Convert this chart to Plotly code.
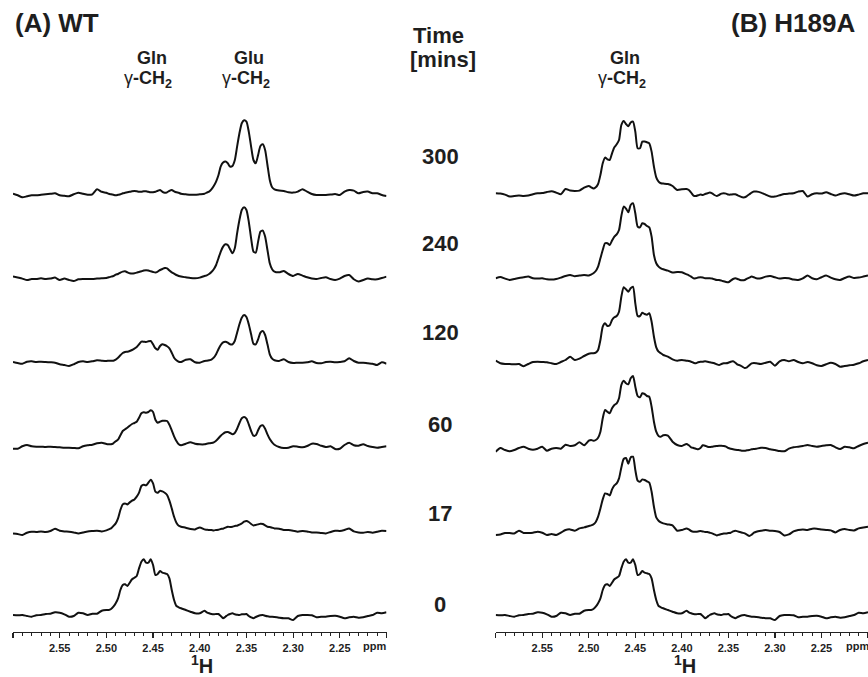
import numpy as np
import plotly.graph_objects as go

# ---------------- sampling positions (ppm) ----------------
PPM = np.round(np.concatenate([
    np.arange(2.600, 2.5049, -0.005),
    np.arange(2.500, 2.4224, -0.0025),
    np.arange(2.420, 2.3949, -0.005),
    np.arange(2.3925, 2.3224, -0.0025),
    np.arange(2.320, 2.1999, -0.005),
]), 4)

TIMES = ["300", "240", "120", "60", "17", "0"]
TICK_VALS = [2.60, 2.55, 2.50, 2.45, 2.40, 2.35, 2.30, 2.25, 2.20]
TICK_TEXT = ["", "2.55", "2.50", "2.45", "2.40", "2.35", "2.30", "2.25", ""]

# ---------------- intensities (arbitrary units) ----------------
WT_300 = [-0.5, -2, -4, -3, -2, -2, -1.5, -1, -0.5, 0, -2, -2.5, -3, -1, 0.5, -0.5, -1.5, -1, 4, 1.5,
          0.5, -0.5, -1, -1.5, -2, -1.5, -1, 0, 0.5, 1, 1.5, 2, 2.3, 2, 1.5, 1.5, 2, 2, 1.5, 1, 1, 1.5, 2.5, 3.3, 1.5, 0.5, 1, 2.5, 3.3, 2, 1, 0.5,
          -0.5, -1, -1.5, -1.5, -1, -0.5,
          0.7, 1.7, 4, 7.3, 11.7, 18, 27, 30.7, 31.7, 30, 26.7, 27.3, 33, 46.7, 60, 70, 73, 71.7, 61.7, 46.7, 33.3, 30, 38.3, 47.3, 49, 43.3, 28.3, 13.3, 6,
          4, 2.7, 2.3, 1, 0.7, 1.7, 4, 1.7, -0.7, -1.7, -1.7, -1.7, -1.3, -0.7, -1.7, 1.7, 3.3, 2.7, 0, 1.3, 1.7, 0, 0, -1.7, -2.7]
WT_240 = [1.7, 0.7, -0.3, -1.7, -0.7, -0.7, 0, -0.7, -0.3, 0.7, -1.7, -0.3, -1.7, -2.7, -1, -0.7, -0.7, -0.7, -0.3, 0,
          0.3, 1, 1.7, 2.3, 3.7, 4.3, 5.7, 6.7, 7, 6, 5, 4.7, 5, 5.7, 6.3, 7, 7.7, 8, 7.7, 7, 6.3, 5.7, 6.7, 8.3, 9.3, 10.3, 10, 7.7, 6, 4.7, 3.3, 2.3,
          1.7, 1, 0.3, 0, 0.7, 2.3,
          3, 4.3, 6.3, 9, 13.3, 20, 26.7, 31.7, 34, 33.3, 29, 25, 30, 45, 58.3, 68.3, 71, 68.3, 56.7, 40, 26.7, 25.7, 36.7, 46.7, 47.7, 41.7, 28.3, 15, 9,
          6.7, 6, 7.3, 4.3, 2.3, 4.3, 2.7, 1, -0.3, -0.7, 0.3, 1, -0.7, -1.7, -0.3, 2.3, 3.3, -1, -3.3, -1.7, -0.3, -1, -1, 0.3, 1.7]
WT_120 = [0, -1, -1.7, 0.3, 0.7, 0, 0.3, 0, -0.3, -0.7, -2.3, -3, -4, -2.3, 0, 0.7, 0, 0.7, 1.7, 1.3,
          1, 1.3, 1.3, 1.3, 2.3, 4.3, 6.7, 9, 10, 10.3, 11, 12, 13.3, 15, 17.7, 20.3, 20.3, 20, 20.7, 21, 17.7, 13.7, 12.3, 16, 17.7, 17, 15.7, 13.7, 9.3, 4.3, 1.7, 0.3,
          0, 2.3, 2.7, -0.3, -0.7, 1,
          1.3, 1.7, 2.3, 4.3, 7.7, 12.7, 17, 19.7, 20.3, 19.3, 17.7, 17.7, 21, 29.3, 37.7, 44.3, 47, 45, 37.7, 27.7, 18.3, 17.7, 22.7, 29.3, 31, 27, 17.7, 7.7, 3.3,
          1.7, 1, 2.7, 0, -1, -0.7, -0.7, -0.3, 0.7, -1, -1.3, 0, 0.3, -0.3, 0, 0.7, 3.7, 1, -0.7, -0.7, -1.3, -1.7, -3, -0.3, -1.7]
WT_60 = [-1.7, -1.7, 0.7, 2, 0.7, 0.3, 0.3, 0, 0.3, 0, -0.3, -0.7, -0.7, -1, -1.3, 0.7, 1.7, 2.3, 3.7, 4.3,
         3, 2.7, 2.7, 3.7, 5.7, 7.3, 11.7, 16, 17.7, 19.3, 21.3, 23, 24, 25.3, 29.3, 33.7, 34.7, 34.3, 35, 36.7, 35, 27.3, 24.3, 25.3, 26.3, 26.3, 26, 22.3, 16.7, 10.7, 6, 2.7,
         1.7, 3.3, 4.7, 3.3, 2.7, 2.7,
         3.3, 3.7, 4, 4.7, 6.3, 8.7, 11.3, 13.3, 14.7, 15, 14, 12.7, 14, 18.3, 24, 28.7, 30, 28.3, 22.7, 16, 11.3, 11.7, 16.7, 21, 21.7, 18.3, 12.7, 8, 4.7,
         2.3, 0, -1, -0.7, 0.7, 0.3, -0.3, 1, 3.3, 3, 1.3, 0, 0.7, -2, -1.7, 2, 4.3, 1.7, 1.3, 2.7, 1, 0, -0.7, 0, 0.7]
WT_17 = [-0.7, -1.3, -2.3, 0, 1, 0.7, 1.3, 0.7, 1.7, 4, 2, 1.3, 1, 0.3, -0.7, 0.3, 1.3, 1.7, 2, 1.3,
         2.3, 3.3, 4.3, 6.7, 9.3, 14.3, 22.7, 28.3, 29.3, 28.3, 30.3, 32, 33.3, 36, 40, 46.7, 48, 47.3, 50, 53, 49.3, 41, 40, 42, 41.3, 40, 37.7, 32, 24.3, 16, 10, 7,
         6, 5, 3.7, 3.3, 5.3, 3.3,
         3, 2.7, 2.7, 2.3, 2.7, 3, 3.7, 4, 5, 6, 5.7, 6, 6.7, 7, 8, 9.3, 11, 11.7, 10.7, 8.7, 7.3, 7.7, 8.3, 9, 8.7, 7.3, 6, 5.7, 5,
         4.3, 4, 2.7, 2.7, 2, 1, 1.7, 1.3, 0.3, 0.3, -0.3, -0.7, 0.7, 2, 1.7, 2.7, 4.3, 1.3, 0.3, 0, 0.7, 0, 1, 2, 1.7]
WT_0 = [0, -0.3, 0, -1, -1.7, -0.3, 0, 1, 1.3, 2.7, 2.3, 0.7, -1.7, -1, 2.3, 1.7, 0, 1.3, 1.3, 4.3,
        5, 5, 6, 8.3, 11.7, 16.7, 25, 30, 30.7, 29, 32.3, 35.7, 37.3, 39, 46.7, 53.3, 55.7, 52.3, 52.3, 55.7, 50, 40, 41, 44, 42.3, 41.7, 41, 36.7, 25, 15, 9, 7.7,
        6.7, 5, 3.3, 1.7, 1.7, 4.3,
        2.7, 1.7, 1, 0.7, 1, 1, -1, -3.3, -1.7, 0, 1, 1.7, 0.7, 0.3, 0, 0.7, 0.7, 1, -1, -2.3, -3.3, -2, -1, -0.3, 0, -0.7, -1.3, -1.7, -1.7,
        -2, -2.7, -3.3, -3.3, -5, -1, 0, 0, -0.3, -2.3, -1.7, -1.7, -1, -0.7, -1.7, -3.3, -2.3, -1.7, -2.7, -2.3, -1, 0, 2.3, 1.7, 2.7]

H189A_300 = [0, -0.3, -1.3, -3.3, -2.7, -2.3, -2.7, -2.3, -1, 0, 0.3, 1.3, 2, 0.7, -1, 4.3, 2.7, 2.3, 2.7, 5.7,
             7.3, 6, 4.7, 6, 9.3, 18.3, 30, 35.7, 34, 33.3, 40, 46, 49, 53.3, 68.3, 72.3, 69.3, 67, 70.7, 71.7, 61.7, 45, 45, 51.7, 51.7, 51, 50, 41.7, 26.7, 16, 11.7, 10,
             9.7, 9.3, 7.3, 3.3, 4, 4.3,
             3.3, 0.7, -2.3, -2.7, -2, -1.3, -1.7, -0.7, 0, 0.7, 0, -1.7, -2.7, -1.7, -0.3, 0, -0.3, -1.3, -1.3, -1, -1, -2, -3, -4, -4, -2.7, -1, 0.7, 1.7,
             1.7, 0.7, -1.3, -3.3, -3.3, -2, -0.7, -0.3, 0, 1.7, 2.3, -3.3, -1, 0, -0.3, 1, -0.7, -2.3, -0.7, 0, -1, -2.3, -1.3, 0, 0]
H189A_240 = [0, 1.3, -0.3, -1.7, -0.7, 0.3, 1, 1.7, 0, -0.3, 0, -1, -1.3, -0.7, 0.7, 2.3, 3.3, 2, 2.7, 3.3,
             2.7, 3.7, 5, 7.3, 11.7, 20, 28.3, 35, 35, 33.3, 37.7, 41.7, 44, 48.3, 62.3, 71.7, 69.7, 66, 73.3, 75, 65, 51.7, 51, 55, 54.3, 52.3, 51, 41.7, 23.3, 15, 11.7, 10,
             9, 7.7, 5.7, 6.3, 6, 4,
             3, 1.7, 0, 0, 0.7, 1, 0.7, 0, 0, 0, -0.3, -1, -1.7, -1.7, -2.3, -3, -3.7, -4, -2.3, -0.7, 0, -0.7, -1.7, -2, -1.7, -0.3, 0.7, 1.7, 1,
             0, 0, 1.7, 2.3, 1, -0.3, 0.3, 0, -1.3, -1.7, 0, 2.7, 0, -1, 1, 2.7, 0.7, -1, -1.7, 0.3, 1.7, 0.3, 0.7, 1.7, 2.7]
H189A_120 = [1.3, -1.3, -2, -2, -2.3, -2, -4.3, -2, 0, 0.3, 0, -0.3, -1.3, -2, 0, 2, 5.3, 2, 3.3, 6,
             8.3, 8.7, 8.7, 9.3, 12, 22, 35.3, 38.7, 36, 36.7, 42, 44.7, 46, 50.3, 65.3, 74.7, 72.7, 70.3, 73.7, 75.3, 58.7, 46, 46, 49.3, 48, 47.3, 48.7, 40.3, 25.3, 14.7, 10.3, 8.7,
             7, 5.3, 2.7, 1.3, 2, 1.3,
             1, 0.3, -0.7, -1.3, -0.3, 0.3, 0.3, 0.7, 0.3, -0.3, -0.7, -1.3, -2.3, -3, -2, -1.3, -1.3, -0.7, 0.3, 0.7, -0.7, -2.7, -3.3, -4.7, -6, -5.3, -3.3, -1.3, -1,
             -1.3, -2, -0.7, 0.3, -3.7, 0.7, 2, 0.7, 2, 0, -1.3, 0, -1.3, -3.3, -4, -2.3, -0.7, -2, -4.7, -4, -3.3, -2.7, -1.3, 0.7, 2]
H189A_60 = [-4.7, -1, -3, -4.3, -3, -1, 0.3, -1.7, -2.7, -1.7, 0.3, -3.7, -1.7, -1, -1.7, 2.3, 1, 1.7, 4.7, 1.7,
            6.3, 7, 6.3, 7, 9.3, 15.3, 28.7, 37, 35.3, 33.7, 38.7, 42, 43.7, 48.7, 62, 66.3, 63.7, 62.7, 68.7, 71, 60.3, 51, 49.7, 53.7, 53, 51, 50.3, 40.3, 25.3, 15.3, 11, 10.3,
            11.7, 11.3, 5.3, 2, 1, 3,
            1.7, -0.3, -1, -1.7, -2.3, -1, 1.7, 1.3, 0.3, 0, 0.3, 0.7, 1, 1.3, 1.3, 1, 0.3, -1, -1.7, -2.3, -2.7, -3, -3.3, -3.7, -3.7, -3.3, -3, -2.3, -2,
            -1.7, -0.7, -1, -2.3, -3, -4, -4.3, -1.7, -0.3, 0.3, 1, 2, 1, 0.3, 1, 1.7, 2, -0.3, -2, 0.3, -0.3, -1.3, 1, 3, 4.3]
H189A_17 = [-2.3, -1.7, -0.3, -0.3, -0.7, 2, -0.3, -0.3, 0, 1, 0, -2.3, -1.3, -2.3, 0, 2.7, 3.3, 2, 4.3, 5.3,
            6.7, 7.3, 8.3, 10.7, 16, 24.3, 33.3, 39.3, 38.7, 37.3, 43.3, 47.3, 49.3, 54.3, 65.3, 73.7, 74.7, 69, 75.3, 76, 62.7, 52, 51, 53.3, 52.7, 51.3, 50, 41, 26, 15.3, 12, 10.3,
            9.3, 8.3, 7.3, 2, 2.7, 4.3,
            3.3, 1.7, 1, 1, 1.3, 1.7, 1.3, 0.7, 0.7, 0, -0.7, -1.7, -2.7, -2, -1.3, -0.7, -0.7, -0.3, 0, 1.3, 2, 1.3, 0.7, 0, -0.7, -2, -3.3, -2, 0,
            1, 2, 2.7, 2, 1.7, 0.7, -2.7, -1.7, 1.3, 2.7, 3.3, 2.7, 4, 4, 3.3, 2.7, 2.3, 0.3, 2.7, 3.7, 2.7, 2.3, 4.3, 5.3, 6]
H189A_0 = WT_0

WT = [WT_300, WT_240, WT_120, WT_60, WT_17, WT_0]
MUT = [H189A_300, H189A_240, H189A_120, H189A_60, H189A_17, H189A_0]

# ---------------- layout (pixel geometry) ----------------
W, H = 868, 677
PLOT_BOTTOM = 632  # pixel row of the ppm axis line
BASE_ROWS_PX = [193.3, 278.3, 362, 447, 532.7, 615]   # baseline pixel row of each spectrum
LABEL_ROWS_PX = [156, 244, 333, 424, 513, 604]

def py(px):
    return (PLOT_BOTTOM - px) / PLOT_BOTTOM

def pxx(px):
    return px / W

FONT = "Liberation Sans, Arial, Helvetica, sans-serif"
INK = "#1e1e1e"

fig = go.Figure()
for panel, (series, xa, ya) in enumerate([(WT, "x", "y"), (MUT, "x2", "y2")]):
    for vals, base in zip(series, BASE_ROWS_PX):
        assert len(vals) == len(PPM)
        fig.add_trace(go.Scatter(
            x=PPM, y=np.array(vals) + (PLOT_BOTTOM - base),
            mode="lines", line=dict(color="#111111", width=2, shape="spline", smoothing=0.6),
            xaxis=xa, yaxis=ya, showlegend=False, hoverinfo="skip"))

axis_common = dict(
    range=[2.60, 2.20], showgrid=False, zeroline=False, showline=True,
    linecolor="#222", linewidth=1.3, ticks="outside", ticklen=5, tickwidth=1.2, tickcolor="#222",
    tickmode="array", tickvals=TICK_VALS, ticktext=[f"<b>{t}</b>" if t else "" for t in TICK_TEXT],
    tickfont=dict(family=FONT, size=11, color=INK),
    minor=dict(tick0=2.20, dtick=0.01, ticks="outside", ticklen=3, tickwidth=1, tickcolor="#222", showgrid=False),
    fixedrange=True,
)
yaxis_common = dict(range=[0, PLOT_BOTTOM], visible=False, fixedrange=True)

fig.update_layout(
    width=W, height=H, margin=dict(l=0, r=0, t=0, b=H - PLOT_BOTTOM),
    paper_bgcolor="white", plot_bgcolor="white",
    xaxis=dict(domain=[13 / W, 386.5 / W], anchor="y", **axis_common),
    xaxis2=dict(domain=[495.7 / W, 1.0], anchor="y2", **axis_common),
    yaxis=dict(domain=[0, 1], anchor="x", **yaxis_common),
    yaxis2=dict(domain=[0, 1], anchor="x2", **yaxis_common),
)

ann = []
def text(s, x, y, size, xanchor="center"):
    ann.append(dict(text=s, x=pxx(x), y=py(y), xref="paper", yref="paper", xanchor=xanchor,
                    yanchor="middle", showarrow=False, font=dict(family=FONT, size=size, color=INK)))

GAMMA = "<span style='font-weight:normal'>γ</span><b>-CH</b><sub><b>2</b></sub>"
text("<b>(A) WT</b>", 13, 23, 26, "left")
text("<b>(B) H189A</b>", 857, 23, 26, "right")
text("<b>Time</b>", 438, 36, 22)
text("<b>[mins]</b>", 443, 59, 22)
text("<b>Gln</b>", 152, 58, 18)
text(GAMMA, 148, 79, 18)
text("<b>Glu</b>", 249, 58, 18)
text(GAMMA, 246, 79, 18)
text("<b>Gln</b>", 625, 58, 18)
text(GAMMA, 622, 79, 18)
for t, ypx in zip(TIMES, LABEL_ROWS_PX):
    text(f"<b>{t}</b>", 440, ypx, 22)
text("<b>ppm</b>", 374, 646, 11)
text("<b>ppm</b>", 857, 646, 11)
text("<b><sup>1</sup>H</b>", 202, 664, 20)
text("<b><sup>1</sup>H</b>", 685, 664, 20)
fig.update_layout(annotations=ann)

fig.write_html("out.html", config={"displayModeBar": False, "staticPlot": True},
               post_script="document.body.style.margin='0px';document.body.style.padding='0px';")
